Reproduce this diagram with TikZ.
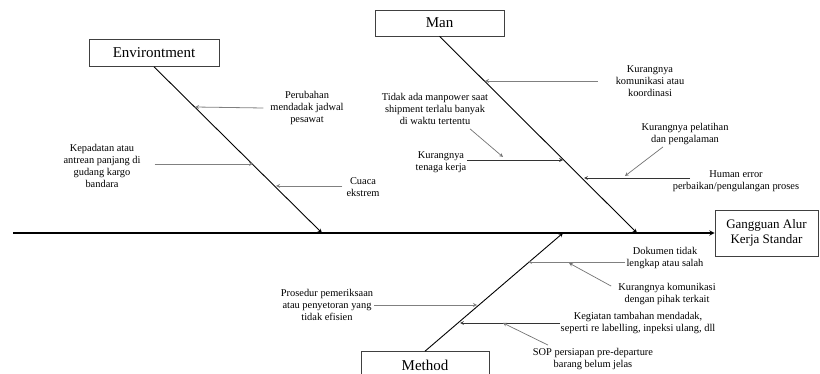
\documentclass[tikz,border=0pt]{standalone}
\usepackage{fontspec}
\setmainfont{Liberation Serif}
\usetikzlibrary{shapes}
\usepgflibrary{arrows}
\tikzset{
  catbox/.style={draw=black!75,line width=.6pt,minimum height=27pt,inner sep=0pt,font=\fontsize{15}{18}\selectfont},
  lbl/.style={align=center,inner sep=1pt,font=\fontsize{10.4}{12}\selectfont},
  bone/.style={line width=.9pt,-stealth},
  cause/.style={gray,line width=.8pt,-stealth},
  subcause/.style={gray!90!black,line width=.7pt,-stealth},
}
\begin{document}
\begin{tikzpicture}[x=1pt,y=-1pt]
\useasboundingbox (0,0) rectangle (820,374);
\clip (0,0) rectangle (820,374);
% spine and effect
\coordinate (tail) at (13,233);
\node[draw=black!75,line width=.6pt,minimum width=103pt,minimum height=46pt,align=center,
  font=\fontsize{13}{15}\selectfont] (effect) at (766.5,233) {Gangguan Alur\\Kerja Standar};
\draw[line width=1.4pt,-stealth] (tail) -- (effect.west);
% categories
\node[catbox,minimum width=130pt] (env) at (154,53) {Environtment};
\node[catbox,minimum width=129pt,minimum height=26pt] (man) at (439.5,23) {Man};
\node[catbox,minimum width=128pt] (meth) at (425,365) {Method};
\coordinate (envtip) at (322,233);
\coordinate (mantip) at (637,233);
\coordinate (methtip) at (563,233);
\draw[bone] (env.south) -- (envtip);
\draw[bone] (man.south) -- (mantip);
\draw[bone] (meth.north) -- (methtip);
% environment causes
\node[lbl] (per) at (307,108) {Perubahan\\mendadak jadwal\\pesawat};
\node[lbl] (kep) at (102,166) {Kepadatan atau\\antrean panjang di\\gudang kargo\\bandara};
\node[lbl] (cua) at (363,187) {Cuaca\\ekstrem};
\coordinate (e1) at (195,107);
\coordinate (e2) at (253,164);
\coordinate (e3) at (276,186);
\draw[cause] (per.west) ++(-6,0) -- (e1);
\draw[cause,shorten <=13pt] (kep.east |- e2) -- (e2);
\draw[cause] (cua.west) ++(-3,-1) -- (e3);
% man causes
\node[lbl] (kom) at (650,81) {Kurangnya\\komunikasi atau\\koordinasi};
\node[lbl] (tid) at (435,109) {Tidak ada manpower saat\\shipment terlalu banyak\\di waktu tertentu};
\node[lbl] (ten) at (441,162) {Kurangnya\\tenaga kerja};
\node[lbl] (pel) at (685,134) {Kurangnya pelatihan\\dan pengalaman};
\node[lbl] (hum) at (736,181) {Human error\\perbaikan/pengulangan proses};
\coordinate (m1) at (485,81);
\coordinate (m2) at (563,160);
\coordinate (m3) at (584,178);
\coordinate (m2a) at (503,157);
\coordinate (m3a) at (625,176);
\coordinate (humtail) at (690,178);
\draw[cause,shorten <=17pt] (kom.west) -- (m1);
\draw[bone,line width=.7pt,black!80] (ten.east |- m2) -- (m2);
\draw[subcause] (tid.south) ++(35,3) -- (m2a);
\draw[bone,line width=.7pt,black!80] (humtail) -- (m3);
\draw[subcause] (pel.south) ++(-22,1) -- (m3a);
% method causes
\node[lbl] (dok) at (665,258) {Dokumen tidak\\lengkap atau salah};
\node[lbl] (kdp) at (667,294) {Kurangnya komunikasi\\dengan pihak terkait};
\node[lbl] (pro) at (327,305) {Prosedur pemeriksaan\\atau penyetoran yang\\tidak efisien};
\node[lbl] (keg) at (638,323) {Kegiatan tambahan mendadak,\\seperti re labelling, inpeksi ulang, dll};
\node[lbl] (sop) at (593,359) {SOP persiapan pre-departure\\barang belum jelas};
\coordinate (t1) at (528,262);
\coordinate (t2) at (477,305);
\coordinate (t3) at (460,323);
\coordinate (t1a) at (569,263);
\coordinate (t3a) at (503,323);
\draw[cause] (dok.west |- t1) -- (t1);
\draw[subcause] (kdp.north west) ++(-6,4) -- (t1a);
\draw[cause] (pro.east) -- (t2);
\draw[bone,line width=.7pt,black!80] (keg.west |- t3) -- (t3);
\draw[subcause] (sop.north) ++(-45,-2) -- (t3a);
\end{tikzpicture}
\end{document}
